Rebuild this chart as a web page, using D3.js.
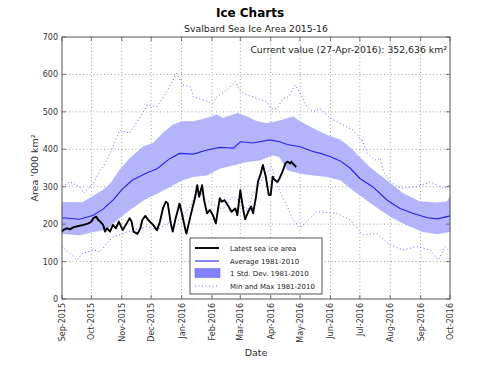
<!DOCTYPE html>
<html>
<head>
<meta charset="utf-8">
<script src="https://cdn.jsdelivr.net/npm/d3@7/dist/d3.min.js"></script>
<style>
  html, body { margin: 0; padding: 0; background: #fff; }
  svg { display: block; font-family: "DejaVu Sans", sans-serif; }
</style>
</head>
<body>
<svg id="chart" width="500" height="375"></svg>
<script>
// ---- Data (day offsets from 1-Sep-2015, values in '000 km²) ----
const seasonStart = "2015-09-01";
const seasonEnd = "2016-10-01";

const iceDays = [0,1,5,8,12,17,22,27,30,32,35,37,39,42,44,46,49,52,55,58,62,66,69,71,73,77,80,82,85,88,93,97,100,103,106,108,111,113,116,120,122,126,127,131,133,136,138,140,143,145,148,151,154,157,161,163,166,170,173,177,179,182,185,187,190,193,195,198,200,203,205,208,211,213,215,217,220,222,225,228,230,233,234,237,239];
const iceValues = [180,184,189,186,192,195,198,202,207,216,220,211,207,198,180,189,180,198,189,207,184,202,216,207,180,174,189,211,222,211,198,184,207,242,260,255,202,180,216,255,233,184,175,220,242,273,304,273,304,264,229,238,224,202,269,260,264,247,233,242,224,291,238,213,233,247,229,273,313,336,358,327,278,278,327,318,313,322,340,362,367,362,367,358,352.6];

const avgDays = [0,18,32,42,52,62,72,87,97,110,120,134,148,161,168,175,182,195,212,222,230,243,256,264,274,284,294,304,317,332,345,358,373,383,396];
const avgValues = [217,213,224,240,264,295,318,337,348,375,389,387,398,405,404,403,420,417,425,420,413,407,394,389,380,369,350,322,300,264,242,229,217,214,222];

const upperDays = [0,21,32,42,50,59,69,83,93,103,113,123,134,148,158,164,179,189,199,209,222,236,243,256,270,284,294,304,314,327,335,348,365,383,393,396];
const upperValues = [258,258,275,291,310,345,375,407,416,443,465,474,474,483,492,483,496,487,474,469,476,487,474,456,438,425,405,378,352,325,309,282,260,257,260,273];

const lowerDays = [0,18,32,46,56,69,83,97,110,123,134,148,161,175,189,202,215,222,230,243,256,270,284,297,311,325,338,352,368,383,396];
const lowerValues = [175,171,180,186,211,238,264,282,300,318,327,331,349,358,367,371,385,380,345,336,331,327,318,291,264,238,216,198,180,174,180];

const maxDays = [0,8,18,22,32,39,42,49,59,69,80,87,97,107,117,123,131,134,144,154,158,168,177,182,189,199,209,214,219,226,231,238,243,250,256,263,274,284,297,306,312,319,325,328,335,342,348,362,376,389,396];
const maxValues = [300,313,300,283,309,345,353,389,451,443,487,518,514,554,603,572,567,540,532,523,540,558,581,554,545,536,527,507,509,536,540,572,550,514,500,509,483,469,451,425,389,371,376,340,315,300,296,300,313,296,304];

const minDays = [0,8,15,21,32,39,46,52,62,72,87,97,107,120,131,138,144,151,164,175,182,189,195,204,214,220,230,236,243,260,281,294,307,321,335,348,362,376,384,391,396];
const minValues = [140,122,104,122,131,126,149,166,175,184,193,184,202,211,247,296,273,256,240,275,260,235,280,318,355,300,247,211,190,233,229,211,171,175,144,131,140,131,104,140,126];

const yTicks = [0,100,200,300,400,500,600,700];
const legendLabels = ["Latest sea ice area","Average 1981-2010","1 Std. Dev. 1981-2010","Min and Max 1981-2010"];
const titleText = "Ice Charts";
const subtitleText = "Svalbard Sea Ice Area 2015-16";
const currentText = "Current value (27-Apr-2016): 352,636 km²";

// ---- Layout ----
const svg = d3.select("#chart");
const L = 62, R = 450, T = 37, B = 299;
const t0 = new Date(seasonStart + "T00:00:00Z");
const t1 = new Date(seasonEnd + "T00:00:00Z");
const toDate = d => d3.utcDay.offset(t0, d);

const x = d3.scaleUtc().domain([t0, t1]).range([L, R]);
const y = d3.scaleLinear().domain([0, 700]).range([B, T]);

const monthTicks = d3.utcMonth.range(t0, d3.utcDay.offset(t1, 1));

// grid
const grid = svg.append("g");
monthTicks.slice(1, -1).forEach(d => {
  grid.append("line").attr("x1", x(d)).attr("x2", x(d)).attr("y1", T).attr("y2", B)
    .attr("stroke", "#777").attr("stroke-width", 0.7).attr("stroke-dasharray", "1,2.5");
});
yTicks.slice(1, -1).forEach(v => {
  grid.append("line").attr("x1", L).attr("x2", R).attr("y1", y(v)).attr("y2", y(v))
    .attr("stroke", "#777").attr("stroke-width", 0.7).attr("stroke-dasharray", "1,2.5");
});

// std band
const bandDays = d3.range(0, 397);
const interp = (days, vals) => {
  return dd => {
    const i = d3.bisectRight(days, dd);
    if (i <= 0) return vals[0];
    if (i >= days.length) return vals[vals.length - 1];
    const a = days[i - 1], b = days[i];
    return vals[i - 1] + (vals[i] - vals[i - 1]) * (dd - a) / (b - a);
  };
};
const upF = interp(upperDays, upperValues), loF = interp(lowerDays, lowerValues);
const area = d3.area()
  .x(d => x(toDate(d)))
  .y0(d => y(loF(d)))
  .y1(d => y(upF(d)));
svg.append("path").datum(bandDays).attr("d", area)
  .attr("fill", "#b4b4fb").attr("stroke", "#a0a0f5").attr("stroke-width", 0.5);

const line = d3.line().x(d => x(toDate(d[0]))).y(d => y(d[1]));
const zip = (a, b) => a.map((d, i) => [d, b[i]]);

// min & max dotted
[[maxDays, maxValues], [minDays, minValues]].forEach(([dd, vv]) => {
  svg.append("path").datum(zip(dd, vv)).attr("d", line)
    .attr("fill", "none").attr("stroke", "#6b6bff").attr("stroke-width", 1)
    .attr("stroke-dasharray", "1,2.5");
});

// average
svg.append("path").datum(zip(avgDays, avgValues)).attr("d", line)
  .attr("fill", "none").attr("stroke", "#2323e6").attr("stroke-width", 1.1);

// latest ice
svg.append("path").datum(zip(iceDays, iceValues)).attr("d", line)
  .attr("fill", "none").attr("stroke", "#000").attr("stroke-width", 1.9)
  .attr("stroke-linejoin", "round");

// frame
svg.append("rect").attr("x", L).attr("y", T).attr("width", R - L).attr("height", B - T)
  .attr("fill", "none").attr("stroke", "#555").attr("stroke-width", 1);

// ticks (inward)
const tk = svg.append("g").attr("stroke", "#555").attr("stroke-width", 0.8);
monthTicks.forEach(d => {
  tk.append("line").attr("x1", x(d)).attr("x2", x(d)).attr("y1", B).attr("y2", B - 4);
  tk.append("line").attr("x1", x(d)).attr("x2", x(d)).attr("y1", T).attr("y2", T + 4);
});
yTicks.forEach(v => {
  tk.append("line").attr("x1", L).attr("x2", L + 4).attr("y1", y(v)).attr("y2", y(v));
  tk.append("line").attr("x1", R).attr("x2", R - 4).attr("y1", y(v)).attr("y2", y(v));
});

// y tick labels
const fmtMonth = d3.utcFormat("%b-%Y");
yTicks.forEach(v => {
  svg.append("text").attr("x", L - 4).attr("y", y(v) + 3)
    .attr("text-anchor", "end").attr("font-size", 8).attr("fill", "#333").text(v);
});
// x tick labels (rotated)
monthTicks.forEach(d => {
  svg.append("text")
    .attr("transform", `translate(${x(d) + 3},${B + 4}) rotate(-90)`)
    .attr("text-anchor", "end").attr("font-size", 8).attr("fill", "#333").text(fmtMonth(d));
});

// axis titles
svg.append("text").attr("x", (L + R) / 2).attr("y", 356).attr("text-anchor", "middle")
  .attr("font-size", 9.5).attr("fill", "#333").text("Date");
svg.append("text").attr("transform", `translate(38,${(T + B) / 2}) rotate(-90)`)
  .attr("text-anchor", "middle").attr("font-size", 9.5).attr("fill", "#333").text("Area '000 km²");

// titles
svg.append("text").attr("x", 250).attr("y", 17).attr("text-anchor", "middle")
  .attr("font-size", 12).attr("font-weight", "bold").attr("fill", "#000").text(titleText);
svg.append("text").attr("x", (L + R) / 2).attr("y", 32).attr("text-anchor", "middle")
  .attr("font-size", 9.3).attr("fill", "#222").text(subtitleText);
svg.append("text").attr("x", R - 3).attr("y", 53).attr("text-anchor", "end")
  .attr("font-size", 9.3).attr("fill", "#222").text(currentText);

// legend
const lg = svg.append("g");
lg.append("rect").attr("x", 190).attr("y", 238).attr("width", 132).attr("height", 56)
  .attr("fill", "#fff").attr("stroke", "#444").attr("stroke-width", 0.9);
const ly = [248, 261, 273, 286];
lg.append("line").attr("x1", 195).attr("x2", 219).attr("y1", ly[0]).attr("y2", ly[0])
  .attr("stroke", "#000").attr("stroke-width", 1.9);
lg.append("line").attr("x1", 195).attr("x2", 219).attr("y1", ly[1]).attr("y2", ly[1])
  .attr("stroke", "#2323e6").attr("stroke-width", 1.1);
lg.append("rect").attr("x", 195).attr("y", ly[2] - 4.5).attr("width", 25).attr("height", 9)
  .attr("fill", "#8282ff").attr("stroke", "#6a6aff").attr("stroke-width", 0.6);
lg.append("line").attr("x1", 195).attr("x2", 219).attr("y1", ly[3]).attr("y2", ly[3])
  .attr("stroke", "#6b6bff").attr("stroke-width", 1).attr("stroke-dasharray", "1,2.5");
legendLabels.forEach((t, i) => {
  lg.append("text").attr("x", 230).attr("y", ly[i] + 2.5).attr("font-size", 7)
    .attr("fill", "#222").text(t);
});
</script>
</body>
</html>
